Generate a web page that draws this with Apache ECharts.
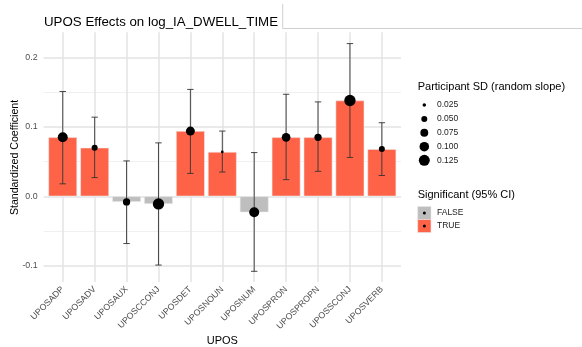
<!DOCTYPE html>
<html>
<head>
<meta charset="utf-8">
<script src="https://cdn.jsdelivr.net/npm/echarts@6/dist/echarts.min.js"></script>
<style>
html,body{margin:0;padding:0;background:#fff;}
#c{width:582px;height:347px;}
</style>
</head>
<body>
<div id="c"></div>
<script>
// ---- data ----
const categories = ['UPOSADP','UPOSADV','UPOSAUX','UPOSCCONJ','UPOSDET','UPOSNOUN','UPOSNUM','UPOSPRON','UPOSPROPN','UPOSSCONJ','UPOSVERB'];
const estimate = [0.085, 0.070, -0.008, -0.011, 0.094, 0.064, -0.023, 0.085, 0.085, 0.138, 0.068];
const ciLow = [0.018, 0.027, -0.068, -0.099, 0.033, 0.035, -0.108, 0.024, 0.036, 0.056, 0.030];
const ciHigh = [0.151, 0.114, 0.051, 0.077, 0.154, 0.094, 0.063, 0.147, 0.136, 0.220, 0.106];
const participantSD = [0.107, 0.050, 0.066, 0.131, 0.091, 0.019, 0.107, 0.086, 0.066, 0.131, 0.050];
const significant = [true, true, false, false, true, true, false, true, true, true, true];
const yTicks = [-0.1, 0.0, 0.1, 0.2];
const yGridMajor = [-0.1, 0.0, 0.1, 0.2];
const yGridMinor = [-0.05, 0.05, 0.15];
const sdBreaks = [0.025, 0.050, 0.075, 0.100, 0.125];
const sdBreakLabels = ['0.025', '0.050', '0.075', '0.100', '0.125'];
const sigLevels = ['FALSE', 'TRUE'];

// ---- styling ----
const FONT = 'Liberation Sans, Arial, sans-serif';
const COL_TRUE = '#FF6347';
const COL_FALSE = '#BEBEBE';
function dotSize(v) { return Math.max(2, -2.55 + 38.3 * Math.sqrt(v)); }

const xs = categories.map((c, i) => i + 1);
const barData = categories.map((c, i) => ({
  value: [i + 1, estimate[i]],
  itemStyle: { color: significant[i] ? COL_TRUE : COL_FALSE }
}));
const errData = categories.map((c, i) => [i + 1, ciLow[i], ciHigh[i]]);
const ptData = categories.map((c, i) => [i + 1, estimate[i], participantSD[i]]);

const chart = echarts.init(document.getElementById('c'), null, { renderer: 'canvas' });

const gridLeft = 43.6, gridTop = 32.2, gridRight = 181, gridBottom = 65;

// legend + axis-title graphics
const lgX = 417.7;
const legendEls = [];
legendEls.push({ type: 'text', x: 15, y: 157.5, rotation: Math.PI / 2, style: { text: 'Standardized Coefficient', font: '10.6px ' + FONT, fill: '#000', align: 'center', verticalAlign: 'middle' } });
legendEls.push({ type: 'text', x: 222.3, y: 340.5, style: { text: 'UPOS', font: '11px ' + FONT, fill: '#000', align: 'center', verticalAlign: 'middle' } });
legendEls.push({ type: 'text', left: lgX, top: 81, style: { text: 'Participant SD (random slope)', font: '11px ' + FONT, fill: '#000' } });
const sizeYs = [105, 119, 132.7, 146.7, 160.3];
sdBreaks.forEach((b, k) => {
  legendEls.push({ type: 'circle', shape: { cx: 424.3, cy: sizeYs[k], r: dotSize(b) / 2 }, style: { fill: '#000' } });
  legendEls.push({ type: 'text', x: 437, y: sizeYs[k], style: { text: sdBreakLabels[k], font: '8.5px ' + FONT, fill: '#1a1a1a', verticalAlign: 'middle' } });
});
legendEls.push({ type: 'text', left: lgX, top: 189, style: { text: 'Significant (95% CI)', font: '11px ' + FONT, fill: '#000' } });
const keyYs = [206.5, 219.5];
sigLevels.forEach((lv, k) => {
  legendEls.push({ type: 'rect', shape: { x: lgX, y: keyYs[k], width: 13.3, height: 13 }, style: { fill: lv === 'TRUE' ? COL_TRUE : COL_FALSE, stroke: '#e6e6e6', lineWidth: 0.6 } });
  legendEls.push({ type: 'circle', shape: { cx: lgX + 6.65, cy: keyYs[k] + 6.5, r: 1.5 }, style: { fill: '#000' } });
  legendEls.push({ type: 'text', x: 437, y: keyYs[k] + 6.5, style: { text: lv, font: '8.5px ' + FONT, fill: '#1a1a1a', verticalAlign: 'middle' } });
});
// stray frame lines at top right
legendEls.push({ type: 'line', shape: { x1: 282.7, y1: 4, x2: 282.7, y2: 28.5 }, style: { stroke: '#cfcfcf', lineWidth: 1 } });
legendEls.push({ type: 'line', shape: { x1: 282.7, y1: 28.5, x2: 582, y2: 28.5 }, style: { stroke: '#cfcfcf', lineWidth: 1 } });

const option = {
  animation: false,
  backgroundColor: '#fff',
  title: {
    text: 'UPOS Effects on log_IA_DWELL_TIME',
    left: 39, top: 11,
    textStyle: { fontFamily: FONT, fontSize: 13.3, fontWeight: 'normal', color: '#000' }
  },
  grid: { left: gridLeft, right: gridRight, top: gridTop, bottom: gridBottom, containLabel: false, outerBoundsMode: 'none' },
  xAxis: {
    type: 'value', min: 0.4, max: 11.6,
    axisLine: { show: false }, axisTick: { show: false }, splitLine: { show: false },
    axisLabel: {
      customValues: xs, rotate: 45, margin: 6, hideOverlap: false,
      fontFamily: FONT, fontSize: 8.8, color: '#4d4d4d',
      formatter: v => categories[Math.round(v) - 1] || ''
    }
  },
  yAxis: {
    type: 'value', min: -0.1234, max: 0.2364,
    axisLine: { show: false }, axisTick: { show: false }, splitLine: { show: false },
    axisLabel: {
      customValues: yTicks, margin: 6,
      fontFamily: FONT, fontSize: 8.8, color: '#4d4d4d',
      formatter: v => v.toFixed(1)
    }
  },
  graphic: legendEls,
  series: [
    {
      type: 'line', data: [], z: 0, silent: true,
      markLine: {
        z: 0, zlevel: 0,
        silent: true, symbol: 'none', label: { show: false }, animation: false,
        data: [
          ...yGridMinor.map(v => ({ yAxis: v, lineStyle: { color: '#ececec', width: 0.8, type: 'solid' } })),
          ...yGridMajor.map(v => ({ yAxis: v, lineStyle: { color: '#e3e3e3', width: 1.5, type: 'solid' } })),
          ...xs.map(v => ({ xAxis: v, lineStyle: { color: '#e3e3e3', width: 1.5, type: 'solid' } }))
        ]
      }
    },
    {
      type: 'bar', data: barData, barWidth: 28.7, z: 2,
      itemStyle: { borderColor: 'rgba(235,235,235,0.9)', borderWidth: 0.6 }
    },
    {
      type: 'custom', z: 6, data: errData,
      encode: { x: 0, y: [1, 2] },
      renderItem: function (params, api) {
        const x = api.value(0);
        const lo = api.coord([x, api.value(1)]);
        const hi = api.coord([x, api.value(2)]);
        const hw = 3.2;
        const st = { stroke: '#333333', lineWidth: 0.9 };
        return {
          type: 'group',
          children: [
            { type: 'line', shape: { x1: lo[0], y1: lo[1], x2: hi[0], y2: hi[1] }, style: st },
            { type: 'line', shape: { x1: lo[0] - hw, y1: lo[1], x2: lo[0] + hw, y2: lo[1] }, style: st },
            { type: 'line', shape: { x1: hi[0] - hw, y1: hi[1], x2: hi[0] + hw, y2: hi[1] }, style: st }
          ]
        };
      }
    },
    {
      type: 'scatter', z: 7, data: ptData,
      symbol: 'circle',
      symbolSize: function (val) { return dotSize(val[2]); },
      itemStyle: { color: '#000', opacity: 1 }
    }
  ]
};
chart.setOption(option);
</script>
</body>
</html>
